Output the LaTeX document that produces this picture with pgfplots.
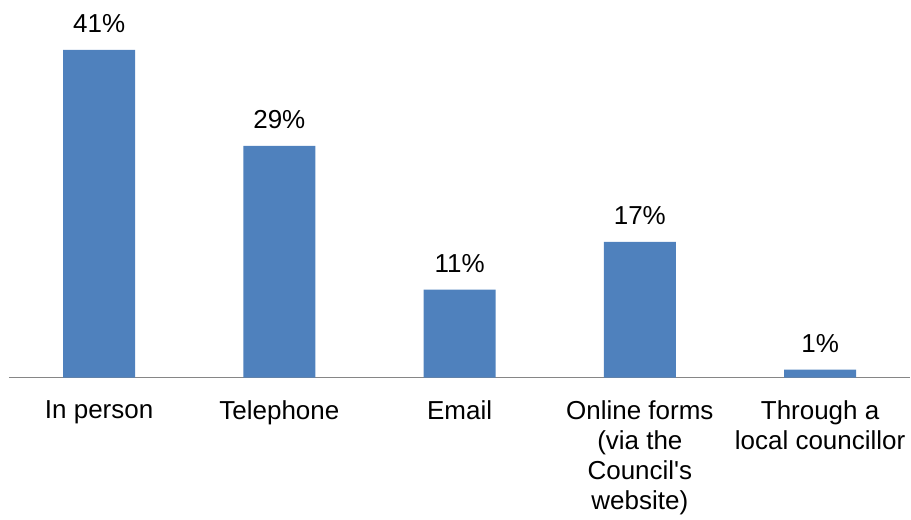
\documentclass[border=0pt]{standalone}
\usepackage{fontspec}
\setmainfont{Liberation Sans}[Ligatures=TeXOff]
\usepackage{pgfplots}
\pgfplotsset{compat=1.18}
\definecolor{barblue}{HTML}{4F81BD}
\definecolor{axisgray}{HTML}{868686}
\begin{document}
\begin{tikzpicture}
\begin{axis}[
  scale only axis, width=676.5pt, height=283.5pt,
  xmin=-0.5, xmax=4.5, ymin=0, ymax=47.25,
  axis x line*=bottom, axis y line=none,
  x axis line style={draw=axisgray, line width=1.2pt, -},
  ybar, bar width=54pt,
  xtick={0,1,2,3,4},
  xticklabels={In person, Telephone, Email, {Online forms\\(via the\\Council's\\website)}, {Through a\\local councillor}},
  major tick length=0pt,
  ytick=\empty,
  xticklabel style={align=center, anchor=north, font=\fontsize{19.5}{22.5}\selectfont, yshift=-14pt},
  /pgf/number format/assume math mode=true,
  nodes near coords={\pgfmathprintnumber{\pgfplotspointmeta}\%},
  nodes near coords style={font=\fontsize{19.5}{22.5}\selectfont, anchor=base, yshift=12.75pt},
  clip=false,
]
\addplot[fill=barblue, draw=none] coordinates {(0,41) (1,29) (2,11) (3,17) (4,1)};
\path ([xshift=-6.75pt]rel axis cs:0,0) rectangle (rel axis cs:1,1);
\end{axis}
\end{tikzpicture}
\end{document}
